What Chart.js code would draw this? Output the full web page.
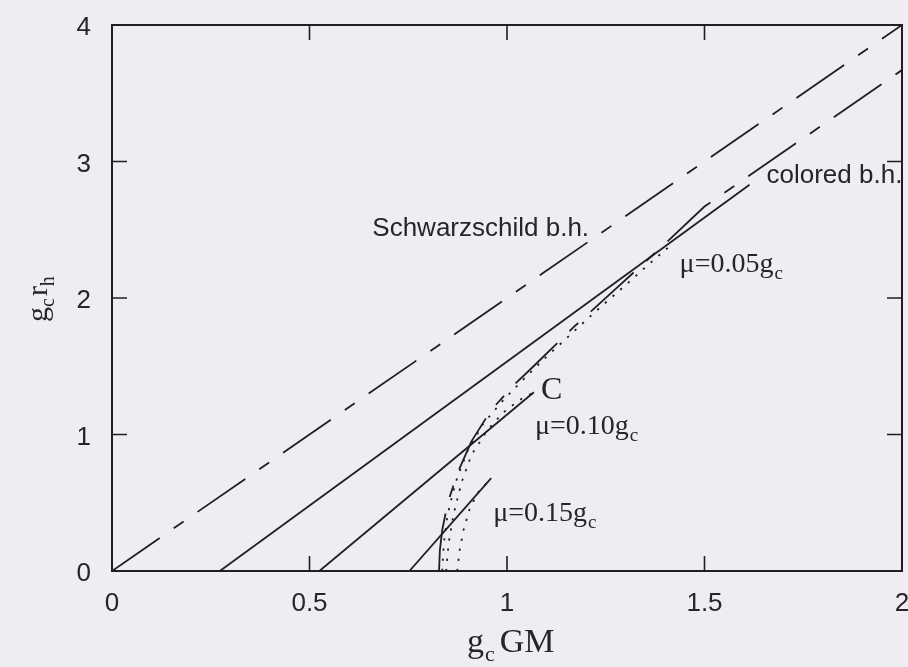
<!DOCTYPE html>
<html>
<head>
<meta charset="utf-8">
<script src="https://cdn.jsdelivr.net/npm/chart.js@4/dist/chart.umd.min.js"></script>
<style>
  html, body { margin: 0; padding: 0; background: #eeedf2; }
  #wrap { width: 908px; height: 667px; position: relative; }
</style>
</head>
<body>
<div id="wrap"><canvas id="chart"></canvas></div>
<script>
// Schwarzschild b.h. : g_c r_h = 2 g_c GM
const schwM = [0, 2];
const schwR = [0, 4];

// colored b.h. (mu = 0)
const coloredM = [0.828, 0.83, 0.836, 0.85, 0.875, 0.91, 0.96, 1.02, 1.06, 1.17, 1.28, 1.39, 1.5, 1.75, 2.0];
const coloredR = [0, 0.15, 0.3, 0.5, 0.72, 0.95, 1.18, 1.37, 1.48, 1.79, 2.08, 2.37, 2.67, 3.17, 3.67];

// solid branches
const solid05M = [0.273, 1.614];
const solid05R = [0, 2.83];
const solid10M = [0.525, 1.068];
const solid10R = [0, 1.31];
const solid15M = [0.753, 0.96];
const solid15R = [0, 0.68];

// dotted branches
const dot05M = [0.836, 0.84, 0.85, 0.87, 0.9, 0.94, 0.99, 1.04, 1.1, 1.16, 1.22, 1.31, 1.36, 1.42];
const dot05R = [0, 0.2, 0.42, 0.65, 0.88, 1.08, 1.25, 1.4, 1.57, 1.73, 1.89, 2.12, 2.25, 2.4];
const dot10M = [0.846, 0.852, 0.865, 0.885, 0.91, 0.95, 0.99, 1.03, 1.068];
const dot10R = [0, 0.2, 0.42, 0.65, 0.85, 1.03, 1.16, 1.25, 1.31];
const dot15M = [0.874, 0.88, 0.89, 0.905, 0.925, 0.96];
const dot15R = [0, 0.15, 0.3, 0.45, 0.57, 0.68];

const xTicks = [0, 0.5, 1, 1.5, 2];
const yTicks = [0, 1, 2, 3, 4];

// text labels: [text, subscript, M, r, kind]
const labels = [
    ['Schwarzschild b.h.', '', 0.659, 2.454, 'sans'],
    ['colored b.h.', '', 1.657, 2.842, 'sans'],
    ['\u03bc=0.05g', 'c', 1.437, 2.19, 'serif'],
    ['\u03bc=0.10g', 'c', 1.071, 1.004, 'serif'],
    ['\u03bc=0.15g', 'c', 0.965, 0.366, 'serif'],
    ['C', '', 1.086, 1.26, 'big']
];

const ink = '#1f1f22';

function pts(xs, ys) {
    return xs.map((x, i) => ({ x: x, y: ys[i] }));
}

function line(xs, ys, dash) {
    return {
        data: pts(xs, ys),
        showLine: true,
        borderColor: ink,
        borderWidth: 1.8,
        borderDash: dash,
        pointRadius: 0,
        tension: 0,
        fill: false
    };
}

const longShort = [58, 17, 12, 17];
const dotted = [2.2, 8];

// draw text with a lowered subscript
function rich(ctx, parts, x, y) {
    let cx = x;
    parts.forEach(p => {
        ctx.font = p.font;
        ctx.fillText(p.t, cx, y + (p.dy || 0));
        cx += ctx.measureText(p.t).width + (p.gap || 0);
    });
}

const decor = {
    id: 'decor',
    afterDraw(chart) {
        const ctx = chart.ctx;
        const a = chart.chartArea;
        const xs = chart.scales.x;
        const ys = chart.scales.y;
        ctx.save();
        ctx.strokeStyle = ink;
        ctx.lineWidth = 2;
        ctx.strokeRect(a.left, a.top, a.right - a.left, a.bottom - a.top);

        // inward tick marks on all four sides
        const tl = 15;
        ctx.lineWidth = 1.6;
        ctx.beginPath();
        xTicks.slice(1, -1).forEach(v => {
            const px = xs.getPixelForValue(v);
            ctx.moveTo(px, a.bottom); ctx.lineTo(px, a.bottom - tl);
            ctx.moveTo(px, a.top); ctx.lineTo(px, a.top + tl);
        });
        yTicks.slice(1, -1).forEach(v => {
            const py = ys.getPixelForValue(v);
            ctx.moveTo(a.left, py); ctx.lineTo(a.left + tl, py);
            ctx.moveTo(a.right, py); ctx.lineTo(a.right - tl, py);
        });
        ctx.stroke();

        ctx.fillStyle = '#26262a';
        ctx.textBaseline = 'alphabetic';
        ctx.textAlign = 'left';

        labels.forEach(l => {
            const px = xs.getPixelForValue(l[2]);
            const py = ys.getPixelForValue(l[3]);
            if (l[4] === 'sans') {
                rich(ctx, [{ t: l[0], font: '26px "Liberation Sans", Arial, sans-serif' }], px, py);
            } else if (l[4] === 'big') {
                rich(ctx, [{ t: l[0], font: '32px "Liberation Serif", serif' }], px, py);
            } else {
                rich(ctx, [
                    { t: l[0], font: '28px "Liberation Serif", serif', gap: 1 },
                    { t: l[1], font: '19px "Liberation Serif", serif', dy: 7 }
                ], px, py);
            }
        });

        // x axis title
        rich(ctx, [
            { t: 'g', font: '34px "Liberation Serif", serif', gap: 1 },
            { t: 'c', font: '22px "Liberation Serif", serif', dy: 9, gap: 5 },
            { t: 'GM', font: '34px "Liberation Serif", serif' }
        ], 467, 652);

        // y axis title
        ctx.translate(47, 322);
        ctx.rotate(-Math.PI / 2);
        rich(ctx, [
            { t: 'g', font: '30px "Liberation Serif", serif', gap: 0 },
            { t: 'c', font: '20px "Liberation Serif", serif', dy: 7, gap: 2 },
            { t: 'r', font: '30px "Liberation Serif", serif', gap: 0 },
            { t: 'h', font: '20px "Liberation Serif", serif', dy: 7 }
        ], 0, 0);
        ctx.restore();
    }
};

new Chart(document.getElementById('chart'), {
    type: 'scatter',
    data: {
        datasets: [
            line(schwM, schwR, longShort),
            line(coloredM, coloredR, longShort),
            line(solid05M, solid05R, []),
            line(solid10M, solid10R, []),
            line(solid15M, solid15R, []),
            line(dot05M, dot05R, dotted),
            line(dot10M, dot10R, dotted),
            line(dot15M, dot15R, dotted)
        ]
    },
    options: {
        responsive: true,
        maintainAspectRatio: false,
        animation: false,
        layout: { padding: { top: 25, right: 6, left: 0, bottom: 0 } },
        plugins: {
            legend: { display: false },
            tooltip: { enabled: false }
        },
        scales: {
            x: {
                type: 'linear',
                min: 0,
                max: 2,
                grid: { display: false, drawTicks: false },
                border: { display: false },
                ticks: {
                    stepSize: 0.5,
                    padding: 17,
                    color: '#26262a',
                    font: { family: '"Liberation Sans", Arial, sans-serif', size: 26 },
                    callback: value => String(value)
                },
                afterFit(scale) {
                    scale.height = 96;
                    scale.paddingLeft = 0;
                    scale.paddingRight = 0;
                }
            },
            y: {
                type: 'linear',
                min: 0,
                max: 4,
                grid: { display: false, drawTicks: false },
                border: { display: false },
                ticks: {
                    stepSize: 1,
                    padding: 21,
                    labelOffset: 3,
                    color: '#26262a',
                    font: { family: '"Liberation Sans", Arial, sans-serif', size: 26 }
                },
                afterFit(scale) {
                    scale.width = 112;
                    scale.paddingTop = 0;
                    scale.paddingBottom = 0;
                }
            }
        }
    },
    plugins: [decor]
});
</script>
</body>
</html>
